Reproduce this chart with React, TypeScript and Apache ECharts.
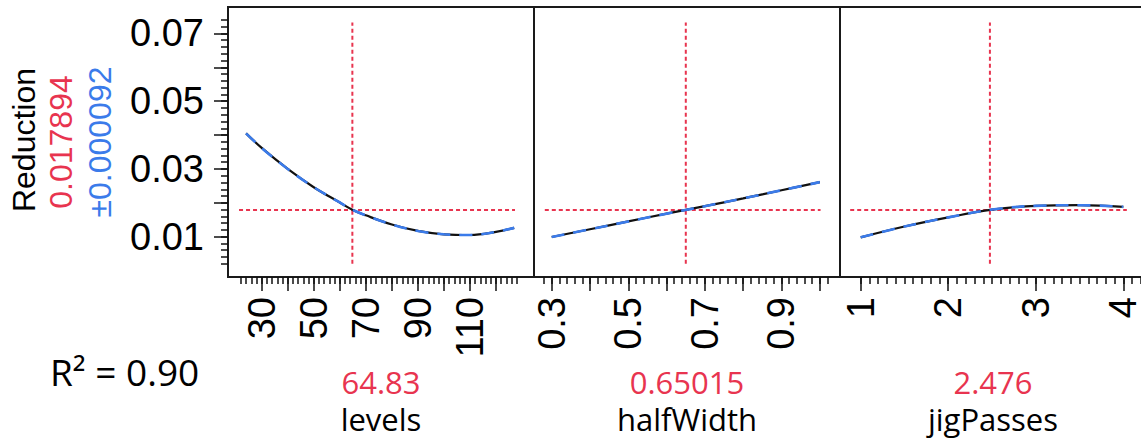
import React, { useEffect, useRef } from 'react';
import * as echarts from 'echarts';

// ---- data ----
const responseName = 'Reduction';
const currentYText = '0.017894';
const ciText = '±0.000092';
const r2Text = 'R² = 0.90';
const currentY = 0.017894;

const factorNames = ['levels', 'halfWidth', 'jigPasses'];
const currentX = [64.83, 0.65015, 2.476];
const currentXText = ['64.83', '0.65015', '2.476'];

const levelsX = [24, 30, 40, 50, 60, 65, 70, 80, 90, 100, 110, 120, 127];
const levelsY = [0.0405, 0.0362, 0.03, 0.0246, 0.0201, 0.0179, 0.0163, 0.0136, 0.0117, 0.0107, 0.0105, 0.0114, 0.0126];

const halfWidthX = [0.3, 0.4, 0.5, 0.6, 0.7, 0.8, 0.9, 1.0];
const halfWidthY = [0.0099, 0.0122, 0.0145, 0.0168, 0.019, 0.0213, 0.0237, 0.0261];

const jigPassesX = [1, 1.5, 2, 2.5, 3, 3.5, 4];
const jigPassesY = [0.0098, 0.013, 0.0157, 0.018, 0.0191, 0.0193, 0.0188];

const xMins = [17.06, 0.2538, 0.7635];
const xMaxs = [134.6, 1.0528, 4.259];
const yMin = -0.0019;
const yMax = 0.0778;

// crosshair extents (data units)
const vLineY = [0.002, 0.0732];
const hLineX = [
  [21.3, 127.3],
  [0.282, 1.002],
  [0.88, 4.04],
];

const range = (a: number, b: number, s: number) => {
  const out: number[] = [];
  const n = Math.round((b - a) / s);
  for (let k = 0; k <= n; k++) out.push(+(a + k * s).toFixed(6));
  return out;
};

const xMinorTicks = [range(22, 128, 2), range(0.28, 1.02, 0.02), range(1, 4.2, 0.1)];
const xMajorTicks = [range(30, 120, 10), range(0.3, 1.0, 0.1), [1, 2, 3, 4]];
const xLabelTicks = [[30, 50, 70, 90, 110], [0.3, 0.5, 0.7, 0.9], [1, 2, 3, 4]];
const yMinorTicks = range(0.002, 0.074, 0.002);
const yMajorTicks = range(0.01, 0.07, 0.01);
const yLabelTicks = [0.01, 0.03, 0.05, 0.07];

const RED = '#e8344f';
const BLUE = '#3b7bea';
const AX_FONT = 'Liberation Sans';
const TXT_FONT = 'Open Sans';

const panelLeft = [228, 534, 840];
const panelWidth = 306;
const panelTop = 7;
const panelHeight = 270;

export default function App() {
  const ref = useRef<HTMLDivElement>(null);
  useEffect(() => {
    if (!ref.current) return;
    const chart = echarts.init(ref.current, undefined, { renderer: 'svg' });
    const curvesX = [levelsX, halfWidthX, jigPassesX];
    const curvesY = [levelsY, halfWidthY, jigPassesY];

    const grid = panelLeft.map((l) => ({
      left: l,
      top: panelTop,
      width: panelWidth,
      height: panelHeight,
      show: true,
      borderColor: '#1a1a1a',
      borderWidth: 2,
      backgroundColor: 'transparent',
      containLabel: false,
      outerBoundsMode: 'none',
    }));

    const xAxis: any[] = [];
    for (let i = 0; i < 3; i++) {
      xAxis.push({
        gridIndex: i,
        type: 'value',
        position: 'bottom',
        offset: 0,
        min: xMins[i],
        max: xMaxs[i],
        axisLine: { show: false, onZero: false },
        splitLine: { show: false },
        axisTick: { show: true, customValues: xMinorTicks[i], length: 7, lineStyle: { color: '#111', width: 1.5 } },
        axisLabel: { show: false },
      });
      xAxis.push({
        gridIndex: i,
        type: 'value',
        position: 'bottom',
        offset: 0,
        min: xMins[i],
        max: xMaxs[i],
        axisLine: { show: false, onZero: false },
        splitLine: { show: false },
        axisTick: { show: true, customValues: xMajorTicks[i], length: 14, lineStyle: { color: '#111', width: 1.5 } },
        axisLabel: {
          show: true,
          customValues: xLabelTicks[i],
          rotate: 90,
          margin: 20,
          fontSize: 38,
          fontFamily: AX_FONT,
          color: '#000',
          hideOverlap: false,
          formatter: (v: number) => String(v),
        },
      });
    }

    const yAxis: any[] = [
      {
        gridIndex: 0,
        type: 'value',
        position: 'left',
        offset: 0,
        min: yMin,
        max: yMax,
        axisLine: { show: false, onZero: false },
        splitLine: { show: false },
        axisTick: { show: true, customValues: yMinorTicks, length: 7, lineStyle: { color: '#111', width: 1.5 } },
        axisLabel: { show: false },
      },
      {
        gridIndex: 0,
        type: 'value',
        position: 'left',
        offset: 0,
        min: yMin,
        max: yMax,
        axisLine: { show: false, onZero: false },
        splitLine: { show: false },
        axisTick: { show: true, customValues: yMajorTicks, length: 14, lineStyle: { color: '#111', width: 1.5 } },
        axisLabel: {
          show: true,
          customValues: yLabelTicks,
          margin: 24,
          fontSize: 38,
          fontFamily: AX_FONT,
          color: '#000',
          formatter: (v: number) => String(v),
        },
      },
      { gridIndex: 1, type: 'value', min: yMin, max: yMax, show: false },
      { gridIndex: 2, type: 'value', min: yMin, max: yMax, show: false },
    ];
    const yIdx = [1, 2, 3];

    const series: any[] = [];
    for (let i = 0; i < 3; i++) {
      const data = curvesX[i].map((x, k) => [x, curvesY[i][k]]);
      series.push({
        type: 'line',
        xAxisIndex: 2 * i + 1,
        yAxisIndex: yIdx[i],
        data: [[currentX[i], vLineY[0]], [currentX[i], vLineY[1]]],
        symbol: 'none',
        lineStyle: { color: RED, width: 2, type: [4, 3] },
        silent: true,
      });
      series.push({
        type: 'line',
        xAxisIndex: 2 * i + 1,
        yAxisIndex: yIdx[i],
        data: [[hLineX[i][0], currentY], [hLineX[i][1], currentY]],
        symbol: 'none',
        lineStyle: { color: RED, width: 2, type: [4, 3] },
        silent: true,
      });
      series.push({
        type: 'line',
        xAxisIndex: 2 * i + 1,
        yAxisIndex: yIdx[i],
        data,
        symbol: 'none',
        smooth: 0.4,
        lineStyle: { color: '#111', width: 2.2 },
        silent: true,
      });
      series.push({
        type: 'line',
        xAxisIndex: 2 * i + 1,
        yAxisIndex: yIdx[i],
        data,
        symbol: 'none',
        smooth: 0.4,
        lineStyle: { color: BLUE, width: 2.6, type: [13, 9] },
        silent: true,
      });
    }

    const graphic: any[] = [
      {
        type: 'text',
        x: 24,
        y: 140,
        rotation: Math.PI / 2,
        style: { text: responseName, font: `32px "${AX_FONT}"`, fill: '#000', textAlign: 'center', textVerticalAlign: 'middle' },
      },
      {
        type: 'text',
        x: 61,
        y: 142,
        rotation: Math.PI / 2,
        style: { text: currentYText, font: `32px "${AX_FONT}"`, fill: RED, textAlign: 'center', textVerticalAlign: 'middle' },
      },
      {
        type: 'text',
        x: 100,
        y: 142,
        rotation: Math.PI / 2,
        style: { text: ciText, font: `32px "${AX_FONT}"`, fill: BLUE, textAlign: 'center', textVerticalAlign: 'middle' },
      },
      {
        type: 'text',
        x: 50,
        y: 371,
        style: { text: r2Text, font: `37px "${TXT_FONT}"`, fill: '#000', textAlign: 'left', textVerticalAlign: 'middle' },
      },
    ];
    for (let i = 0; i < 3; i++) {
      const cx = panelLeft[i] + panelWidth / 2;
      graphic.push({
        type: 'text',
        x: cx,
        y: 382,
        style: { text: currentXText[i], font: `31px "${TXT_FONT}"`, fill: RED, textAlign: 'center', textVerticalAlign: 'middle' },
      });
      graphic.push({
        type: 'text',
        x: cx,
        y: 419,
        style: { text: factorNames[i], font: `31px "${TXT_FONT}"`, fill: '#000', textAlign: 'center', textVerticalAlign: 'middle' },
      });
    }

    chart.setOption({
      animation: false,
      backgroundColor: '#fff',
      grid,
      xAxis,
      yAxis,
      series,
      graphic,
    });
    return () => chart.dispose();
  }, []);
  return (
    <div
      ref={ref}
      style={{ position: 'fixed', left: 0, top: 0, width: 1141, height: 439, overflow: 'hidden' }}
    />
  );
}
